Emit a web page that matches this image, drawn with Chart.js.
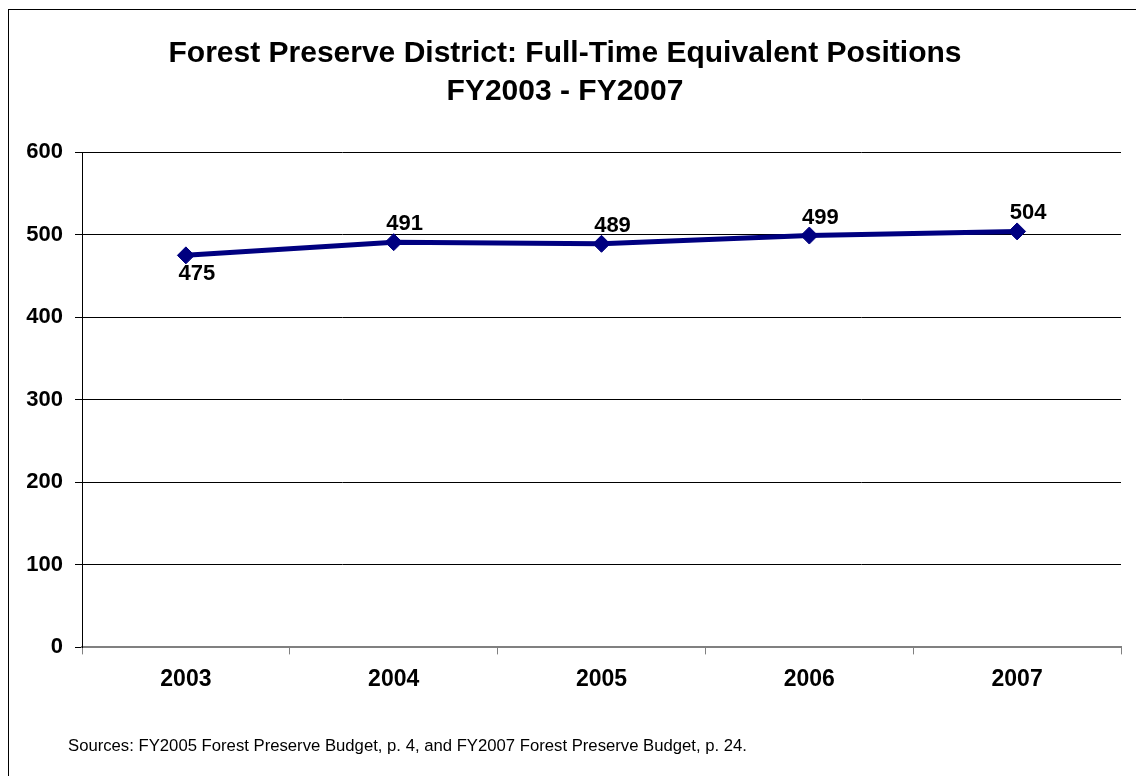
<!DOCTYPE html>
<html>
<head>
<meta charset="utf-8">
<script src="https://cdn.jsdelivr.net/npm/chart.js@4.4.0/dist/chart.umd.min.js"></script>
<style>
  html, body { margin: 0; padding: 0; background: #fff; overflow: hidden; }
  #frame {
    position: absolute;
    left: 8px;
    top: 9px;
    width: 1200px;
    height: 800px;
    border-left: 1px solid #000;
    border-top: 1px solid #000;
  }
  #chart { position: absolute; left: 0; top: 0; }
</style>
</head>
<body>
<div id="frame">
  <canvas id="chart" width="1127" height="766"></canvas>
</div>
<script>
const FONT = "'Liberation Sans', Arial, Helvetica, sans-serif";

const years = ["2003", "2004", "2005", "2006", "2007"];
const ftePositions = [475, 491, 489, 499, 504];
const labelSide = ["below", "above", "above", "above", "above"];
const yTicks = [0, 100, 200, 300, 400, 500, 600];

const titleLines = [
  "Forest Preserve District: Full-Time Equivalent Positions",
  "FY2003 - FY2007"
];
const sourceNote = "Sources: FY2005 Forest Preserve Budget, p. 4, and FY2007 Forest Preserve Budget, p. 24.";

// value labels next to each diamond
const pointLabels = {
  id: "pointLabels",
  afterDatasetsDraw(chart) {
    const ctx = chart.ctx;
    const meta = chart.getDatasetMeta(0);
    ctx.save();
    ctx.font = "bold 22px " + FONT;
    ctx.fillStyle = "#000";
    ctx.textAlign = "center";
    ctx.textBaseline = "middle";
    meta.data.forEach((pt, i) => {
      const dy = labelSide[i] === "below" ? 19 : -18;
      ctx.fillText(String(ftePositions[i]), pt.x + 11, pt.y + dy);
    });
    ctx.restore();
  }
};

const sourceText = {
  id: "sourceText",
  afterDraw(chart) {
    const ctx = chart.ctx;
    ctx.save();
    ctx.font = "16.7px " + FONT;
    ctx.fillStyle = "#000";
    ctx.textAlign = "left";
    ctx.textBaseline = "middle";
    ctx.fillText(sourceNote, 59, 736);
    ctx.restore();
  }
};

new Chart(document.getElementById("chart").getContext("2d"), {
  type: "line",
  data: {
    labels: years,
    datasets: [{
      data: ftePositions,
      borderColor: "#000080",
      backgroundColor: "#000080",
      borderWidth: 5,
      tension: 0,
      pointStyle: "rectRot",
      pointRadius: 8.5,
      pointBorderWidth: 1,
      pointBorderColor: "#000080",
      pointBackgroundColor: "#000080"
    }]
  },
  options: {
    responsive: false,
    animation: false,
    layout: { padding: { left: 0, right: 15, top: 0, bottom: 72 } },
    plugins: {
      legend: { display: false },
      tooltip: { enabled: false },
      title: {
        display: true,
        text: titleLines,
        color: "#000",
        font: { family: FONT, size: 30, weight: "bold", lineHeight: 1.27 },
        padding: { top: 25, bottom: 41 }
      }
    },
    scales: {
      x: {
        offset: true,
        grid: {
          offset: true,
          drawOnChartArea: false,
          drawTicks: true,
          tickLength: 7,
          color: "#808080"
        },
        border: { display: true, color: "#808080", width: 2 },
        ticks: {
          color: "#000",
          padding: 11,
          maxRotation: 0,
          font: { family: FONT, size: 23, weight: "bold" }
        }
      },
      y: {
        min: 0,
        max: 600,
        afterBuildTicks(scale) {
          scale.ticks = yTicks.map(v => ({ value: v }));
        },
        afterFit(scale) { scale.width = 73; },
        grid: {
          color: "#000",
          lineWidth: 1,
          tickLength: 7
        },
        border: { display: true, color: "#000", width: 1 },
        ticks: {
          color: "#000",
          padding: 12,
          font: { family: FONT, size: 22, weight: "bold" }
        }
      }
    }
  },
  plugins: [pointLabels, sourceText]
});
</script>
</body>
</html>
